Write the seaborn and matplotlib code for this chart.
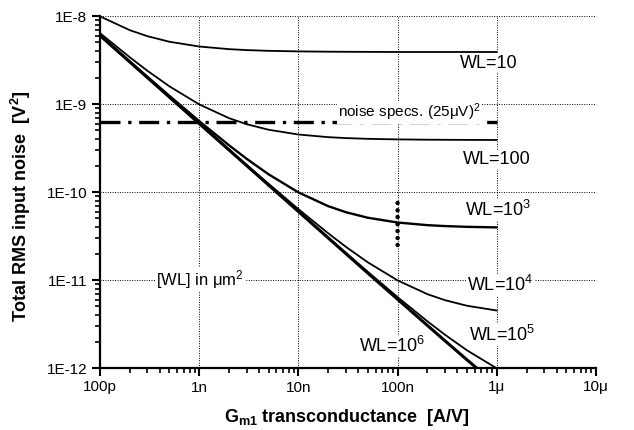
import matplotlib
matplotlib.use("Agg")
import matplotlib.pyplot as plt
import matplotlib.ticker as mticker
import seaborn as sns
import pandas as pd

# Gm1 transconductance [A/V]
gm = [1e-10, 2e-10, 3e-10, 5e-10, 1e-9, 2e-9, 3e-9, 5e-9,
      1e-8, 2e-8, 3e-8, 5e-8, 1e-7, 2e-7, 3e-7, 5e-7, 1e-6]

# Total RMS input noise [V^2]
wl_10 = [9.9e-9, 6.9e-9, 5.9e-9, 5.1e-9, 4.5e-9, 4.2e-9, 4.1e-9, 4.02e-9,
         3.96e-9, 3.93e-9, 3.92e-9, 3.91e-9, 3.9e-9, 3.9e-9, 3.9e-9, 3.9e-9, 3.9e-9]
wl_100 = [6.39e-9, 3.39e-9, 2.39e-9, 1.59e-9, 9.9e-10, 6.9e-10, 5.9e-10, 5.1e-10,
          4.5e-10, 4.2e-10, 4.1e-10, 4.02e-10, 3.96e-10, 3.93e-10, 3.92e-10, 3.91e-10, 3.9e-10]
wl_1e3 = [6.04e-9, 3.04e-9, 2.04e-9, 1.24e-9, 6.39e-10, 3.39e-10, 2.39e-10, 1.59e-10,
          9.9e-11, 6.9e-11, 5.9e-11, 5.1e-11, 4.5e-11, 4.2e-11, 4.1e-11, 4.02e-11, 3.96e-11]
wl_1e4 = [6.0e-9, 3.0e-9, 2.0e-9, 1.2e-9, 6.04e-10, 3.04e-10, 2.04e-10, 1.24e-10,
          6.39e-11, 3.39e-11, 2.39e-11, 1.59e-11, 9.9e-12, 6.9e-12, 5.9e-12, 5.1e-12, 4.5e-12]
wl_1e5 = [6.0e-9, 3.0e-9, 2.0e-9, 1.2e-9, 6.0e-10, 3.0e-10, 2.0e-10, 1.2e-10,
          6.04e-11, 3.04e-11, 2.04e-11, 1.24e-11, 6.39e-12, 3.39e-12, 2.39e-12, 1.59e-12, 9.9e-13]
wl_1e6 = [6.0e-9, 3.0e-9, 2.0e-9, 1.2e-9, 6.0e-10, 3.0e-10, 2.0e-10, 1.2e-10,
          6.0e-11, 3.0e-11, 2.0e-11, 1.2e-11, 6.04e-12, 3.04e-12, 2.04e-12, 1.24e-12, 6.4e-13]

spec_x = [1e-10, 1e-6]
spec_y = [6.25e-10, 6.25e-10]  # (25 uV)^2

dots_x = [1e-7] * 7
dots_y = [7.5e-11, 6.2e-11, 5.2e-11, 4.3e-11, 3.6e-11, 3.0e-11, 2.5e-11]

x_ticks = [1e-10, 1e-9, 1e-8, 1e-7, 1e-6, 1e-5]
x_ticklabels = ["100p", "1n", "10n", "100n", "1\u03bc", "10\u03bc"]
y_ticks = [1e-12, 1e-11, 1e-10, 1e-9, 1e-8]
y_ticklabels = ["1E-12", "1E-11", "1E-10", "1E-9", "1E-8"]

curve_labels = ["WL=10", "WL=100", "WL=10$^3$", "WL=10$^4$", "WL=10$^5$", "WL=10$^6$"]

sns.set_style("ticks")
plt.rcParams["font.family"] = ["Liberation Sans", "DejaVu Sans"]
plt.rcParams["mathtext.fontset"] = "custom"
plt.rcParams["mathtext.rm"] = "Liberation Sans"
plt.rcParams["mathtext.it"] = "Liberation Sans:italic"
plt.rcParams["mathtext.bf"] = "Liberation Sans:bold"
for key in ["text.color", "axes.labelcolor", "xtick.color", "ytick.color", "axes.edgecolor"]:
    plt.rcParams[key] = "black"

fig = plt.figure(figsize=(6.34, 4.30), dpi=100)
ax = fig.add_axes([100 / 634, 1 - 368 / 430, 496 / 634, 352 / 430])

series = [wl_10, wl_100, wl_1e3, wl_1e4, wl_1e5, wl_1e6]
widths = [1.3, 1.3, 1.7, 1.3, 1.3, 2.2]
for vals, lw in zip(series, widths):
    sns.lineplot(x=gm, y=vals, ax=ax, color="black", lw=lw, estimator=None, sort=False)

sns.lineplot(x=spec_x, y=spec_y, ax=ax, color="black", lw=2.4,
             linestyle=(0, (6, 2.3, 1, 2.3)), estimator=None)
sns.scatterplot(x=dots_x, y=dots_y, ax=ax, color="black", s=10, edgecolor="none", zorder=5)

ax.set_xscale("log")
ax.set_yscale("log")
ax.set_xlim(1e-10, 1e-5)
ax.set_ylim(1e-12, 1e-8)

ax.set_xticks(x_ticks)
ax.set_xticklabels(x_ticklabels)
ax.set_yticks(y_ticks)
ax.set_yticklabels(y_ticklabels)
ax.xaxis.set_minor_locator(mticker.LogLocator(base=10, subs=range(2, 10), numticks=20))
ax.yaxis.set_minor_locator(mticker.LogLocator(base=10, subs=range(2, 10), numticks=20))
ax.xaxis.set_minor_formatter(mticker.NullFormatter())
ax.yaxis.set_minor_formatter(mticker.NullFormatter())

ax.tick_params(which="major", direction="out", length=6, width=1.5, labelsize=11, pad=3,
               color="black", labelcolor="black")
ax.tick_params(which="minor", direction="out", length=3.5, width=1.2, color="black")

for s in ["top", "right"]:
    ax.spines[s].set_visible(False)
for s in ["left", "bottom"]:
    ax.spines[s].set_linewidth(1.6)
    ax.spines[s].set_color("black")

ax.grid(True, which="major", linestyle=(0, (1, 1.5)), color="black", lw=0.7)

ax.set_xlabel("G$_{\\mathbf{m1}}$ transconductance  [A/V]", fontsize=13, fontweight="bold", color="black")
ax.set_ylabel("Total RMS input noise  [V$^\\mathbf{2}$]", fontsize=13, fontweight="bold", color="black")
ax.xaxis.set_label_coords(0.498, -0.112)
ax.yaxis.set_label_coords(-0.135, 0.46)

bbox = dict(facecolor="white", edgecolor="none", pad=0.5)
label_pos = [(0.784, 0.866), (0.800, 0.591), (0.802, 0.449),
             (0.806, 0.236), (0.810, 0.094), (0.589, 0.0625)]
for lab, (px, py) in zip(curve_labels, label_pos):
    ax.text(px, py, lab, transform=ax.transAxes, fontsize=13, ha="center", va="center",
            bbox=bbox, color="black")

ax.text(0.202, 0.252, "[WL] in \u03bcm$^2$", transform=ax.transAxes, fontsize=12,
        ha="center", va="center", bbox=bbox, color="black")
ax.text(0.623, 0.727, "noise specs. (25\u03bcV)$^2$", transform=ax.transAxes, fontsize=11,
        ha="center", va="center", bbox=bbox, color="black")

fig.savefig("out.png", dpi=100)
